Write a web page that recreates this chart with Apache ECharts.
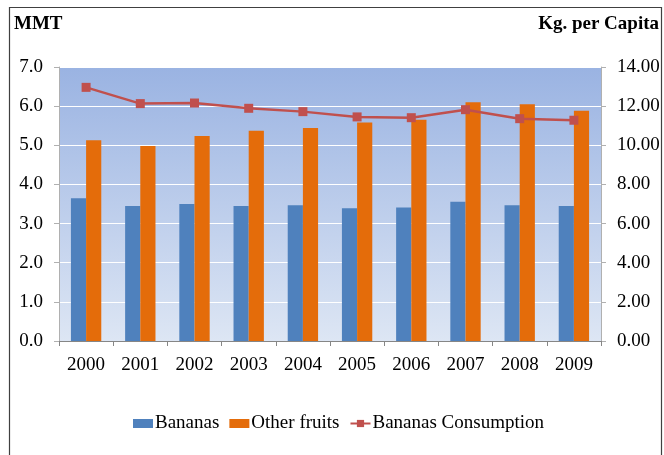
<!DOCTYPE html>
<html><head><meta charset="utf-8">
<script src="https://cdn.jsdelivr.net/npm/echarts@6/dist/echarts.min.js"></script>
<style>html,body{margin:0;padding:0;background:#fff}#c{width:664px;height:455px}</style>
</head><body><div id="c"></div>
<script>
const years = ['2000','2001','2002','2003','2004','2005','2006','2007','2008','2009'];
const bananas = [3.65, 3.45, 3.50, 3.45, 3.47, 3.39, 3.41, 3.56, 3.47, 3.45];
const otherFruits = [5.13, 4.98, 5.24, 5.37, 5.44, 5.58, 5.65, 6.10, 6.05, 5.88];
const consumption = [12.96, 12.13, 12.16, 11.89, 11.72, 11.45, 11.41, 11.82, 11.36, 11.28];

const chart = echarts.init(document.getElementById('c'), null, {renderer:'canvas'});
const font = '"Liberation Serif", "Times New Roman", serif';
chart.setOption({
  animation:false,
  textStyle:{fontFamily:font},
  graphic:[
    {type:'rect', shape:{x:9.5,y:7.5,width:652,height:460}, style:{fill:null, stroke:'#404040', lineWidth:1.2}, z:100},
    {type:'text', left:14, top:15, style:{text:'MMT', font:'bold 19px '+font, fill:'#000'}},
    {type:'text', right:5, top:15, style:{text:'Kg. per Capita', font:'bold 19px '+font, fill:'#000'}}
  ],
  grid:{left:59, right:63, top:67, bottom:114, show:true, borderWidth:0,
    backgroundColor:new echarts.graphic.LinearGradient(0,0,0,1,[{offset:0,color:'#9ab3e2'},{offset:1,color:'#dde6f4'}])},
  legend:{bottom:17, left:128, itemGap:10, itemWidth:20, itemHeight:9,
    textStyle:{fontFamily:font, fontSize:19, color:'#000', padding:[0,0,0,-3]},
    data:[{name:'Bananas', icon:'rect'},{name:'Other fruits', icon:'rect'},{name:'Bananas Consumption'}]},
  xAxis:{type:'category', data:years,
    axisLine:{lineStyle:{color:'#868686'}},
    axisTick:{show:true, length:5, alignWithLabel:false, lineStyle:{color:'#868686'}},
    axisLabel:{color:'#000', fontSize:19, fontFamily:font, margin:15}},
  yAxis:[
    {type:'value', min:0, max:7, interval:1,
     axisLine:{show:true, lineStyle:{color:'#b0b0b0'}},
     axisTick:{show:true, length:5, lineStyle:{color:'#b0b0b0'}},
     splitLine:{lineStyle:{color:'#ffffff', width:1}},
     axisLabel:{color:'#000', fontSize:19, fontFamily:font, margin:16, formatter:v=>v.toFixed(1)}},
    {type:'value', min:0, max:14, interval:2,
     axisLine:{show:true, lineStyle:{color:'#b0b0b0'}},
     axisTick:{show:true, length:5, lineStyle:{color:'#b0b0b0'}},
     splitLine:{show:false},
     axisLabel:{color:'#000', fontSize:19, fontFamily:font, margin:16, formatter:v=>v.toFixed(2)}}
  ],
  series:[
    {name:'Bananas', type:'bar', data:bananas, barGap:'0%', barCategoryGap:'44%', itemStyle:{color:'#4f81bd'}},
    {name:'Other fruits', type:'bar', data:otherFruits, barGap:'0%', barCategoryGap:'44%', itemStyle:{color:'#e46c0a'}},
    {name:'Bananas Consumption', type:'line', yAxisIndex:1, data:consumption,
     symbol:'rect', symbolSize:9, lineStyle:{color:'#c0504d', width:2.5},
     itemStyle:{color:'#c0504d'}}
  ]
});
</script></body></html>
